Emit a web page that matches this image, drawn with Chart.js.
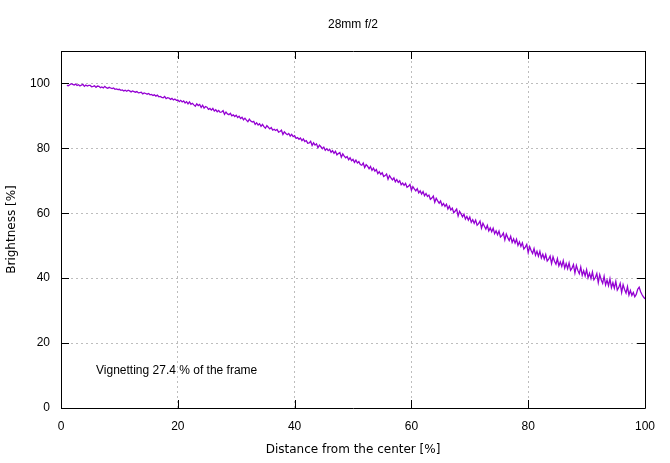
<!DOCTYPE html>
<html>
<head>
<meta charset="utf-8">
<script src="https://cdn.jsdelivr.net/npm/chart.js@4/dist/chart.umd.min.js"></script>
<style>
html,body{margin:0;padding:0;background:#fff;}
#wrap{width:670px;height:463px;}
</style>
</head>
<body>
<div id="wrap"><canvas id="c" width="670" height="463"></canvas></div>
<script>
const chartTitle = "28mm f/2";
const xTitle = "Distance from the center [%]";
const yTitle = "Brightness [%]";
const annotationText = "Vignetting 27.4 % of the frame";
const annotationPos = [6, 11.4];
const xTicks = [0, 20, 40, 60, 80, 100];
const yTicks = [0, 20, 40, 60, 80, 100];

// brightness [%] sampled every 0.25 % of distance, starting at 1.0 % (one row per 1 %)
const brightness = [
99.4,99.3,99.6,99.9,
99.7,99.5,99.8,99.4,
99.6,99.2,99.5,99.7,
99.1,99.5,99.2,99.4,
99.4,99.0,99.1,99.3,
98.8,99.2,99.1,98.7,
98.9,98.6,99.1,98.7,
98.5,98.8,98.6,98.4,
98.6,98.2,98.3,98.1,
98.2,97.9,98.0,97.7,
97.9,97.6,97.9,97.7,
97.4,97.7,97.5,97.3,
97.5,97.1,97.2,97.3,
96.8,97.1,96.9,96.7,
96.9,96.5,96.6,96.3,
96.5,96.1,96.4,95.9,
96.0,95.7,95.6,96.0,
95.3,95.6,95.5,95.1,
95.4,94.9,95.2,94.8,
94.9,94.4,94.8,94.3,
94.6,94.0,94.4,93.7,
94.3,93.6,93.9,93.4,
93.0,93.7,93.2,93.5,
92.6,93.3,92.4,92.9,
92.7,92.0,92.3,91.8,
92.3,91.5,91.9,91.3,
91.7,91.1,91.2,91.6,
90.5,91.2,90.6,90.4,
90.8,90.0,90.3,89.8,
90.2,89.5,89.9,89.2,
89.6,88.8,89.3,88.7,
88.2,89.0,88.4,88.1,
88.3,87.4,87.9,87.2,
87.6,86.8,87.4,86.7,
86.2,87.0,86.5,86.0,
86.4,85.6,85.9,85.5,
85.8,85.0,85.2,85.6,
84.3,85.1,84.6,84.2,
84.6,83.8,84.3,83.6,
83.9,83.1,83.3,82.8,
83.2,82.4,82.9,82.1,
82.4,81.6,81.7,82.2,
80.9,81.7,81.0,81.4,
80.2,81.0,80.5,79.9,
80.4,79.4,79.9,79.3,
79.7,78.8,79.3,78.5,
79.1,78.0,78.4,78.7,
77.3,78.3,77.6,77.1,
77.5,76.5,77.1,76.2,
76.6,75.7,76.4,75.5,
75.9,75.0,74.8,75.5,
74.1,75.0,74.5,73.7,
74.4,73.2,73.9,73.0,
73.5,72.2,72.8,72.0,
72.5,71.3,71.6,72.1,
70.5,71.6,70.9,70.3,
70.9,69.7,70.4,69.5,
70.0,68.8,69.3,68.6,
69.2,68.0,68.3,68.9,
67.1,68.2,67.5,66.9,
67.6,66.3,66.9,65.9,
66.7,65.4,66.1,65.2,
65.6,64.3,64.7,65.3,
63.4,64.6,63.8,63.1,
63.8,62.4,63.0,62.1,
62.8,61.3,62.2,61.0,
61.6,60.2,60.7,61.3,
59.2,60.6,59.8,58.9,
59.7,58.2,59.0,57.9,
58.8,57.2,58.0,56.9,
57.9,56.3,56.8,57.6,
55.4,56.9,56.0,55.1,
56.3,54.6,55.5,54.3,
55.4,53.7,54.6,53.4,
54.5,52.7,53.1,53.9,
51.8,53.6,52.5,51.6,
52.9,51.0,52.1,50.8,
52.0,50.1,51.2,49.8,
50.9,49.0,49.6,50.4,
47.9,49.7,48.5,47.6,
49.1,47.1,48.3,46.8,
48.3,46.2,47.4,45.9,
47.3,45.3,45.9,46.8,
44.5,46.6,45.2,44.3,
46.0,43.8,45.0,43.6,
45.4,43.1,44.5,42.9,
44.7,42.4,43.1,44.2,
41.6,43.9,42.4,41.4,
43.4,40.9,42.3,40.7,
42.6,40.1,41.5,39.9,
41.9,39.5,40.2,41.4,
38.6,41.1,39.5,38.4,
40.6,37.9,39.4,37.7,
39.8,37.1,38.6,36.9,
39.0,36.3,37.1,38.4,
35.6,38.0,36.5,35.4,
37.4,34.8,36.2,34.7,
35.6,34.3,35.0,36.6,
37.2,35.8,34.9,34.2,
33.6
];
const distance = brightness.map((_, i) => 1 + i * 0.25);

const points = distance.map((d, i) => ({x: d, y: brightness[i]}));

const frame = {
  id: 'frame',
  afterDatasetsDraw(chart) {
    const {ctx, chartArea: a, scales} = chart;
    const xs = scales.x, ys = scales.y;
    ctx.save();
    ctx.strokeStyle = '#000';
    ctx.lineWidth = 1;
    ctx.beginPath();
    ctx.rect(Math.round(a.left) + 0.5, Math.round(a.top) + 0.5,
             Math.round(a.right - a.left), Math.round(a.bottom - a.top));
    const tl = 8;
    xTicks.forEach(v => {
      const px = Math.round(xs.getPixelForValue(v)) + 0.5;
      ctx.moveTo(px, a.bottom); ctx.lineTo(px, a.bottom - tl);
      ctx.moveTo(px, a.top); ctx.lineTo(px, a.top + tl);
    });
    yTicks.forEach(v => {
      const py = Math.round(ys.getPixelForValue(v)) + 0.5;
      ctx.moveTo(a.left, py); ctx.lineTo(a.left + tl, py);
      ctx.moveTo(a.right, py); ctx.lineTo(a.right - tl, py);
    });
    ctx.stroke();
    ctx.fillStyle = '#000';
    ctx.font = '12px "Liberation Sans", Arial, sans-serif';
    ctx.textAlign = 'center';
    ctx.textBaseline = 'middle';
    ctx.fillText(chartTitle, (a.left + a.right) / 2, 25);
    ctx.textAlign = 'left';
    ctx.fillText(annotationText, xs.getPixelForValue(annotationPos[0]), ys.getPixelForValue(annotationPos[1]));
    ctx.restore();
  }
};

new Chart(document.getElementById('c'), {
  type: 'line',
  data: {
    datasets: [{
      data: points,
      borderColor: '#9400d3',
      borderWidth: 1.3,
      pointRadius: 0,
      tension: 0,
      fill: false
    }]
  },
  options: {
    responsive: false,
    devicePixelRatio: 1,
    animation: false,
    layout: {padding: {top: 51, right: 25, left: 0, bottom: 0}},
    plugins: {legend: {display: false}, title: {display: false}, tooltip: {enabled: false}},
    scales: {
      x: {
        type: 'linear', min: 0, max: 100,
        afterBuildTicks(s) { s.ticks = xTicks.map(v => ({value: v})); },
        afterFit(s) { s.height = 55; },
        grid: {color: '#bdbdbd', drawTicks: false, lineWidth: 1},
        border: {display: false, dash: [2, 3]},
        ticks: {color: '#000', padding: 11, maxRotation: 0, font: {family: '"Liberation Sans", Arial, sans-serif', size: 12}},
        title: {display: true, text: xTitle, color: '#000', padding: {top: 0, bottom: 6},
                font: {family: '"DejaVu Sans", sans-serif', size: 12}}
      },
      y: {
        type: 'linear', min: 0, max: 110,
        afterBuildTicks(s) { s.ticks = yTicks.map(v => ({value: v})); },
        afterFit(s) { s.width = 61; },
        grid: {color: '#bdbdbd', drawTicks: false, lineWidth: 1},
        border: {display: false, dash: [2, 3]},
        ticks: {color: '#000', padding: 11, font: {family: '"Liberation Sans", Arial, sans-serif', size: 12}},
        title: {display: true, text: yTitle, color: '#000', padding: {top: 5, bottom: 0},
                font: {family: '"DejaVu Sans", sans-serif', size: 12}}
      }
    }
  },
  plugins: [frame]
});
</script>
</body>
</html>
